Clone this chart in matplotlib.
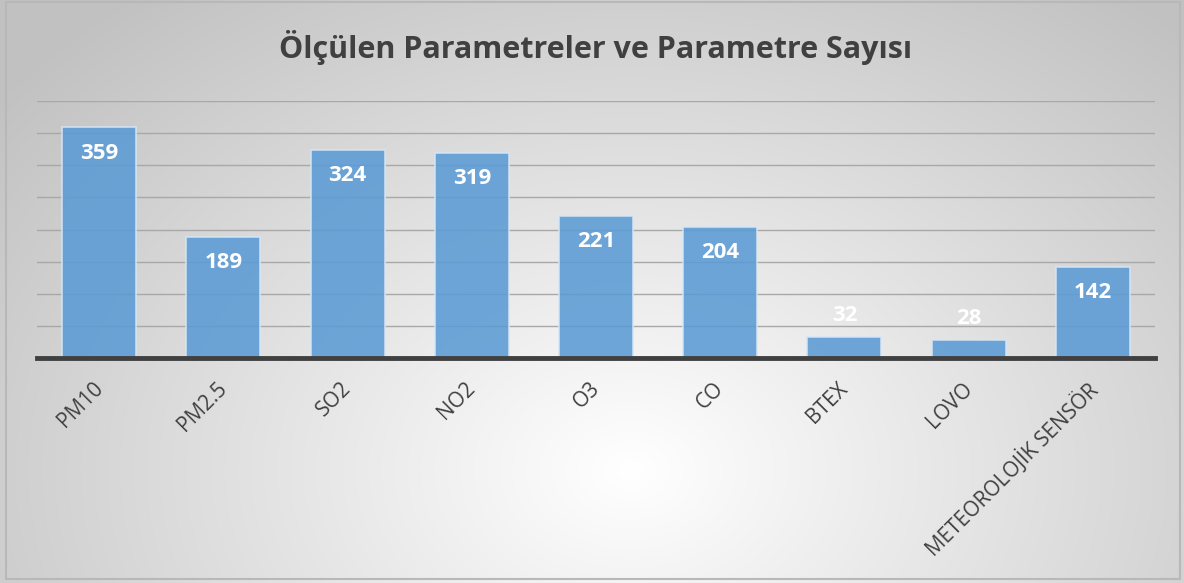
import matplotlib
matplotlib.use("Agg")
import matplotlib.pyplot as plt
from matplotlib.patches import Rectangle
import matplotlib.transforms as mtrans
import numpy as np

# veriler
kategoriler = ["PM10", "PM2.5", "SO2", "NO2", "O3", "CO", "BTEX", "LOVO", "METEOROLOJİK SENSÖR"]
degerler = [359, 189, 324, 319, 221, 204, 32, 28, 142]
baslik = "Ölçülen Parametreler ve Parametre Sayısı"

plt.rcParams['font.family'] = ['Open Sans', 'DejaVu Sans']

W, H = 1184, 583
fig = plt.figure(figsize=(W / 100, H / 100), dpi=100)

# radyal gradyan arka plan
bg = fig.add_axes([0, 0, 1, 1], zorder=-10)
yy, xx = np.mgrid[0:H, 0:W]
cx, cy = 630, 470
r = np.sqrt(((xx - cx) / 1.0) ** 2 + ((yy - cy) / 0.75) ** 2)
r = np.clip(r / 800.0, 0, 1)
val = 1.0 - 0.24 * r
img = np.dstack([val, val, val])
bg.imshow(img, extent=[0, W, H, 0], aspect='auto')
bg.add_patch(Rectangle((6, 2), W - 10, H - 6, fill=False, edgecolor='#b8b8b8', lw=1.5))
bg.set_xlim(0, W)
bg.set_ylim(H, 0)
bg.axis('off')

ax = fig.add_axes([37 / W, 1 - 358 / H, 1118 / W, 257 / H])
ax.set_facecolor('none')
x = np.arange(len(kategoriler))
bars = ax.bar(x, degerler, width=0.595, color='#5b9bd5', alpha=0.88,
              edgecolor='#d6e6f5', linewidth=1.2, zorder=3)

ax.set_xlim(-0.5, len(kategoriler) - 0.5)
ax.set_ylim(0, 400)
ax.set_yticks(np.arange(50, 401, 50))
ax.yaxis.grid(True, color='#a8a8a8', linewidth=1.0, zorder=0)
ax.tick_params(axis='y', left=False, labelleft=False)
ax.tick_params(axis='x', bottom=False, pad=11)
for s in ['top', 'right', 'left']:
    ax.spines[s].set_visible(False)
ax.spines['bottom'].set_color('#404040')
ax.spines['bottom'].set_linewidth(3.5)
ax.spines['bottom'].set_zorder(5)

ax.set_xticks(x)
ax.set_xticklabels(kategoriler, rotation=45, ha='right', va='top',
                   rotation_mode='anchor', fontsize=15, color='#404040')
for lbl in ax.get_xticklabels():
    lbl.set_transform(lbl.get_transform() + mtrans.ScaledTranslation(-0.07, 0, fig.dpi_scale_trans))

for xi, v in zip(x, degerler):
    yv = v + 34 if v < 50 else v - 40
    ax.text(xi, yv, str(v), ha='center', va='center', color='white',
            fontsize=16, fontweight='bold', zorder=6)

fig.text(0.503, 0.918, baslik, ha='center', va='center', fontsize=22,
         fontweight='bold', color='#404040')

fig.savefig("out.png", dpi=100)
